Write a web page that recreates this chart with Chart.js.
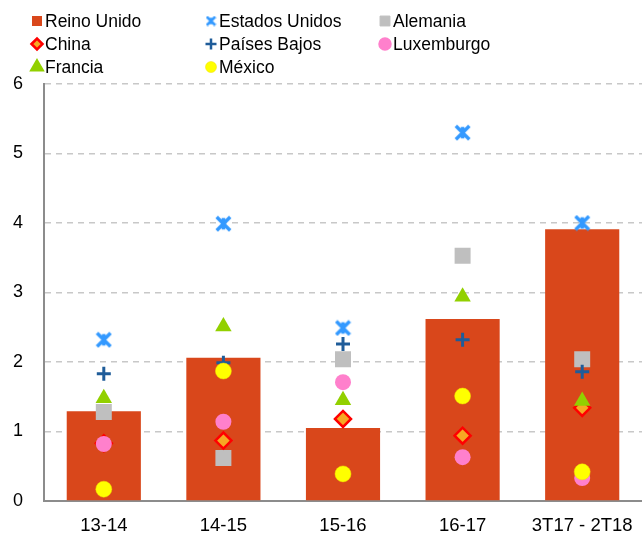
<!DOCTYPE html>
<html>
<head>
<meta charset="utf-8">
<script src="https://cdn.jsdelivr.net/npm/chart.js@4/dist/chart.umd.min.js"></script>
<style>
  html, body { margin: 0; padding: 0; background: #fff; }
  #wrap { width: 642px; height: 536px; position: relative; }
</style>
</head>
<body>
<div id="wrap"><canvas id="myChart" width="642" height="536"></canvas></div>
<script>
const categories = ['13-14', '14-15', '15-16', '16-17', '3T17 - 2T18'];
const yTicks = [0, 1, 2, 3, 4, 5, 6];

const reinoUnido     = [1.29, 2.06, 1.05, 2.62, 3.91];
const estadosUnidos  = [2.32, 3.99, 2.49, 5.30, 4.00];
const alemania       = [1.28, 0.62, 2.04, 3.53, 2.04];
const china          = [0.83, 0.87, 1.18, 0.94, 1.34];
const paisesBajos    = [1.83, 1.99, 2.26, 2.32, 1.86];
const luxemburgo     = [0.82, 1.14, 1.71, 0.63, 0.33];
const francia        = [1.48, 2.51, 1.45, 2.94, 1.44];
const mexico         = [0.17, 1.87, 0.39, 1.51, 0.42];

const FONT = '"Liberation Sans", Arial, sans-serif';

// asterisk-like marker for Estados Unidos
const makeStar = (size, lw) => {
  const c = document.createElement('canvas');
  c.width = size; c.height = size;
  const g = c.getContext('2d');
  g.strokeStyle = '#3399FF';
  g.lineWidth = lw;
  const p = lw / 2, q = size - p;
  g.beginPath();
  g.moveTo(p, p); g.lineTo(q, q);
  g.moveTo(q, p); g.lineTo(p, q);
  g.moveTo(size / 2, p + 1); g.lineTo(size / 2, q - 1);
  g.stroke();
  return c;
};
const starBig = makeStar(17, 3.5);
const starSmall = makeStar(11, 2.5);

const pts = (label, data, style, bg, border, bw, r, ord) => ({
  type: 'line', label: label, data: data, showLine: false,
  pointStyle: style, pointBackgroundColor: bg, pointBorderColor: border,
  pointBorderWidth: bw, pointRadius: r, pointHoverRadius: r, order: ord
});

const datasets = [
  { type: 'bar', label: 'Reino Unido', data: reinoUnido, backgroundColor: '#D9471B',
    barPercentage: 0.62, categoryPercentage: 1, order: 20 },
  pts('Estados Unidos', estadosUnidos, starBig, '#3399FF', '#3399FF', 0, 8, 8),
  pts('Alemania', alemania, 'rect', '#BFBFBF', '#BFBFBF', 0, 11.3, 7),
  pts('China', china, 'rectRot', '#F7A823', '#FF0000', 2.5, 8, 6),
  pts('Países Bajos', paisesBajos, 'cross', '#1F5C99', '#1F5C99', 3, 7, 5),
  pts('Luxemburgo', luxemburgo, 'circle', '#FF80CC', '#FF80CC', 0, 8, 4),
  pts('Francia', francia, 'triangle', '#92D000', '#92D000', 0, 9.5, 3),
  pts('México', mexico, 'circle', '#FFFF00', '#F0E000', 0.5, 8, 2)
];

// legend in three fixed columns, like the original
const legendSlots = [
  [37, 21], [211, 21], [385, 21],
  [37, 44], [211, 44], [385, 44],
  [37, 67], [211, 67]
];
const gridLegend = {
  id: 'gridLegend',
  afterDraw(chart) {
    const ctx = chart.ctx;
    ctx.save();
    ctx.font = '17.5px ' + FONT;
    ctx.fillStyle = '#000';
    ctx.textBaseline = 'middle';
    chart.data.datasets.forEach((ds, i) => {
      const [x, y] = legendSlots[i];
      if (ds.type === 'bar') {
        ctx.fillStyle = ds.backgroundColor;
        ctx.fillRect(x - 5, y - 5, 10, 10);
      } else if (ds.label === 'Estados Unidos') {
        ctx.drawImage(starSmall, x - 5.5, y - 5.5);
      } else {
        ctx.fillStyle = ds.pointBackgroundColor;
        ctx.strokeStyle = ds.pointBorderColor;
        ctx.lineWidth = ds.pointBorderWidth ? Math.min(ds.pointBorderWidth, 2.5) : 0;
        const r = ds.pointStyle === 'rect' ? 7 : (ds.pointStyle === 'triangle' ? 6.5 : 5.5);
        Chart.helpers.drawPoint(ctx, { pointStyle: ds.pointStyle, rotation: 0, radius: r,
          borderWidth: ctx.lineWidth }, x, y);
      }
      ctx.fillStyle = '#000';
      ctx.fillText(ds.label, x + 8, y + 1);
    });
    ctx.restore();
  }
};

new Chart(document.getElementById('myChart'), {
  data: { labels: categories, datasets: datasets },
  plugins: [gridLegend],
  options: {
    responsive: false,
    animation: false,
    layout: { autoPadding: false, padding: { top: 84, right: 0, left: 0, bottom: 0 } },
    plugins: { legend: { display: false }, tooltip: { enabled: false } },
    scales: {
      x: {
        grid: { display: false },
        border: { color: '#8C8C8C', width: 2 },
        ticks: { color: '#000', font: { family: FONT, size: 18.5 }, padding: 6, maxRotation: 0 },
        afterFit: (s) => { s.height = 35; s.paddingLeft = 0; s.paddingRight = 0; }
      },
      y: {
        min: yTicks[0], max: yTicks[yTicks.length - 1],
        afterBuildTicks: (s) => { s.ticks = yTicks.map(v => ({ value: v })); },
        grid: { color: '#C8C8C8', lineWidth: 1.5, drawTicks: false },
        border: { color: '#8C8C8C', width: 2, dash: [6, 5] },
        ticks: { color: '#000', font: { family: FONT, size: 18 }, padding: 21 },
        afterFit: (s) => { s.width = 44; }
      }
    }
  }
});
</script>
</body>
</html>
